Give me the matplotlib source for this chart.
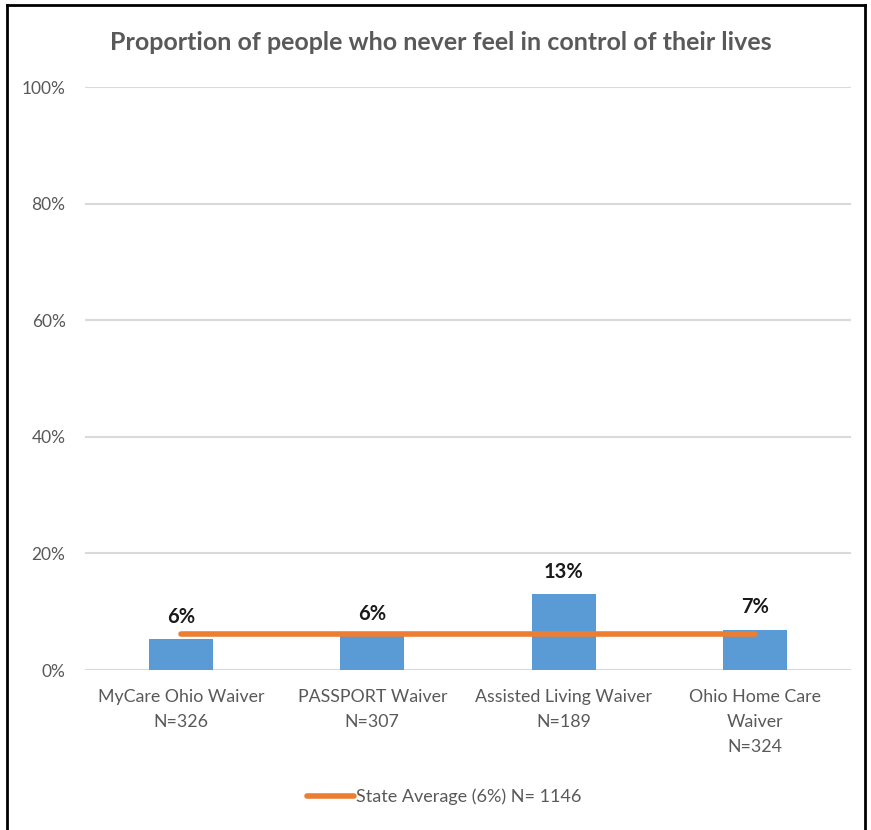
import matplotlib
matplotlib.use("Agg")
import matplotlib.pyplot as plt
from matplotlib.lines import Line2D

categories = ["MyCare Ohio Waiver\nN=326", "PASSPORT Waiver\nN=307",
              "Assisted Living Waiver\nN=189", "Ohio Home Care\nWaiver\nN=324"]
values = [0.053, 0.058, 0.130, 0.069]
labels = ["6%", "6%", "13%", "7%"]
state_avg = [0.062, 0.062, 0.062, 0.062]
legend_label = "State Average (6%) N= 1146"
title = "Proportion of people who never feel in control of their lives"
yticks = [0, 0.2, 0.4, 0.6, 0.8, 1.0]
ytick_labels = ["0%", "20%", "40%", "60%", "80%", "100%"]

plt.rcParams['font.family'] = ['Lato', 'DejaVu Sans']
gray = "#595959"

fig = plt.figure(figsize=(8.71, 8.30), dpi=100)
ax = fig.add_axes([85/871, 1-670/830, (851-85)/871, (670-87)/830])

x = list(range(len(categories)))
ax.bar(x, values, width=0.335, color="#5b9bd5", zorder=2)
ax.plot(x, state_avg, color="#ed7d31", lw=4, solid_capstyle="round", zorder=3)
for xi, v, lab in zip(x, values, labels):
    ax.annotate(lab, (xi, v), xytext=(0, 9), textcoords="offset points",
                ha="center", va="bottom", fontsize=14.5, fontweight="bold", color="#1a1a1a",
                bbox=dict(facecolor="white", edgecolor="none", pad=2), zorder=4)

ax.set_xlim(-0.5, 3.5)
ax.set_ylim(0, 1)
ax.set_yticks(yticks)
ax.set_yticklabels(ytick_labels, fontsize=12.5, color=gray)
ax.set_xticks(x)
ax.set_xticklabels(categories, fontsize=12.8, color=gray, linespacing=1.68)
ax.tick_params(length=0, pad=14, axis="y")
ax.tick_params(length=0, pad=14, axis="x")
ax.grid(axis="y", color="#d9d9d9", lw=1.5, zorder=0)
for s in ax.spines.values():
    s.set_visible(False)

fig.text(441/871, 1-43/830, title, ha="center", va="center", fontsize=18,
         fontweight="bold", color=gray)

handle = Line2D([], [], color="#ed7d31", lw=4, solid_capstyle="round")
fig.legend([handle], [legend_label], loc="center", bbox_to_anchor=(444/871, 1-797/830),
           frameon=False, fontsize=13, labelcolor=gray, handlelength=2.6, handletextpad=0.1)

# outer border
fig.add_artist(Line2D([7/871, 7/871], [0, 1-5/830], color="black", lw=2, transform=fig.transFigure))
fig.add_artist(Line2D([7/871, 865/871], [1-5/830, 1-5/830], color="black", lw=2, transform=fig.transFigure))
fig.add_artist(Line2D([865/871, 865/871], [0, 1-5/830], color="black", lw=2, transform=fig.transFigure))

fig.savefig("out.png", dpi=100)
